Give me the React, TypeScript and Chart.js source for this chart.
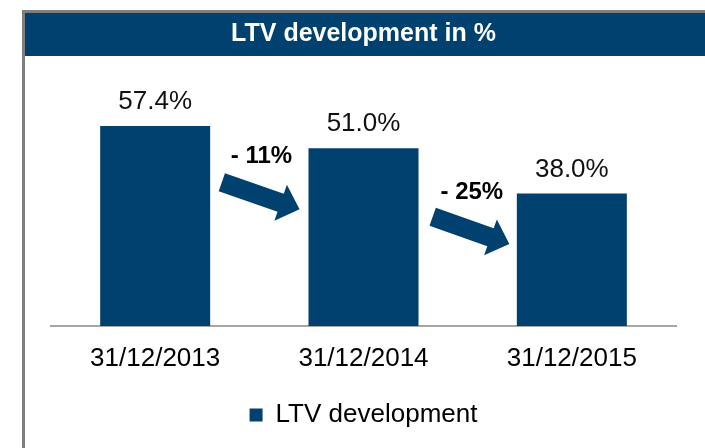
import React, { useEffect, useRef } from 'react';
import { Chart, registerables } from 'chart.js';

Chart.register(...registerables);

// ---- data ----
const categories = ['31/12/2013', '31/12/2014', '31/12/2015'];
const ltvValues = [57.4, 51.0, 38.0];
const seriesName = 'LTV development';
const chartTitle = 'LTV development in %';
const changeLabels = ['- 11%', '- 25%'];
const changeLabelX = [0.51, 1.52];
const changeLabelY = [48.8, 38.4];
const arrowFromX = [0.32, 1.332];
const arrowFromY = [41.25, 31.35];
const arrowToX = [0.693, 1.7];
const arrowToY = [33.48, 23.52];
const yMax = 70;

const FONT = "'Liberation Sans', Arial, Helvetica, sans-serif";
const BLUE = '#00416F';

const framePlugin = {
  id: 'frame',
  beforeDraw(chart: any) {
    const { ctx, width, height } = chart;
    ctx.save();
    ctx.fillStyle = '#ffffff';
    ctx.fillRect(0, 0, width, height);
    ctx.fillStyle = '#7f7f7f';
    ctx.fillRect(22, 10, 3, height - 10);
    ctx.fillRect(22, 10, width - 22, 3);
    ctx.fillStyle = BLUE;
    ctx.fillRect(25, 13, width - 25, 43);
    ctx.restore();
  },
};

function drawArrow(ctx: CanvasRenderingContext2D, x1: number, y1: number, x2: number, y2: number, shaftW: number, headL: number, headW: number) {
  const dx = x2 - x1;
  const dy = y2 - y1;
  const len = Math.hypot(dx, dy);
  const ux = dx / len;
  const uy = dy / len;
  const px = -uy;
  const py = ux;
  const bx = x2 - ux * headL;
  const by = y2 - uy * headL;
  const hs = shaftW / 2;
  const hh = headW / 2;
  ctx.beginPath();
  ctx.moveTo(x1 + px * hs, y1 + py * hs);
  ctx.lineTo(bx + px * hs, by + py * hs);
  ctx.lineTo(bx + px * hh, by + py * hh);
  ctx.lineTo(x2, y2);
  ctx.lineTo(bx - px * hh, by - py * hh);
  ctx.lineTo(bx - px * hs, by - py * hs);
  ctx.lineTo(x1 - px * hs, y1 - py * hs);
  ctx.closePath();
  ctx.fill();
}

const annotationPlugin = {
  id: 'annotations',
  afterDatasetsDraw(chart: any) {
    const { ctx } = chart;
    const xs = chart.scales.x;
    const ys = chart.scales.y;
    ctx.save();
    // value labels
    const meta = chart.getDatasetMeta(0);
    ctx.fillStyle = '#111111';
    ctx.font = `26px ${FONT}`;
    ctx.textAlign = 'center';
    ctx.textBaseline = 'alphabetic';
    meta.data.forEach((bar: any, i: number) => {
      ctx.fillText(ltvValues[i].toFixed(1) + '%', bar.x, bar.y - 17);
    });
    // arrows
    ctx.fillStyle = BLUE;
    for (let i = 0; i < changeLabels.length; i++) {
      drawArrow(
        ctx,
        xs.getPixelForValue(arrowFromX[i]),
        ys.getPixelForValue(arrowFromY[i]),
        xs.getPixelForValue(arrowToX[i]),
        ys.getPixelForValue(arrowToY[i]),
        19,
        20,
        38
      );
    }
    // change labels
    ctx.fillStyle = '#000000';
    ctx.font = `bold 24px ${FONT}`;
    ctx.textBaseline = 'middle';
    for (let i = 0; i < changeLabels.length; i++) {
      ctx.fillText(changeLabels[i], xs.getPixelForValue(changeLabelX[i]), ys.getPixelForValue(changeLabelY[i]));
    }
    ctx.restore();
  },
};

export default function App() {
  const canvasRef = useRef<HTMLCanvasElement | null>(null);

  useEffect(() => {
    if (!canvasRef.current) return;
    const chart = new Chart(canvasRef.current, {
      type: 'bar',
      data: {
        labels: categories,
        datasets: [
          {
            label: seriesName,
            data: ltvValues,
            backgroundColor: BLUE,
            borderWidth: 0,
            barPercentage: 0.528,
            categoryPercentage: 1,
          },
        ],
      },
      options: {
        responsive: false,
        animation: false,
        events: [],
        layout: { padding: { top: 12, left: 51, right: 29, bottom: 10 } },
        scales: {
          x: {
            grid: { display: false, drawTicks: false },
            border: { display: true, color: '#a6a6a6', width: 2 },
            ticks: { color: '#000000', font: { family: FONT, size: 26 }, padding: 17, maxRotation: 0 },
            afterFit: (scale: any) => {
              scale.height = 66;
            },
          },
          y: {
            display: false,
            min: 0,
            max: yMax,
          },
        },
        plugins: {
          title: {
            display: true,
            text: chartTitle,
            color: '#ffffff',
            font: { family: FONT, size: 25, weight: 'bold' },
            padding: { top: 7, bottom: 33 },
          },
          legend: {
            display: true,
            position: 'bottom',
            labels: {
              color: '#000000',
              font: { family: FONT, size: 26 },
              boxWidth: 13,
              boxHeight: 13,
              padding: 10,
            },
          },
          tooltip: { enabled: false },
        },
      },
      plugins: [framePlugin, annotationPlugin],
    });
    return () => chart.destroy();
  }, []);

  return (
    <div style={{ position: 'fixed', left: 0, top: 0, width: 705, height: 448, background: '#fff' }}>
      <canvas ref={canvasRef} width={705} height={448} style={{ display: 'block' }} />
    </div>
  );
}
